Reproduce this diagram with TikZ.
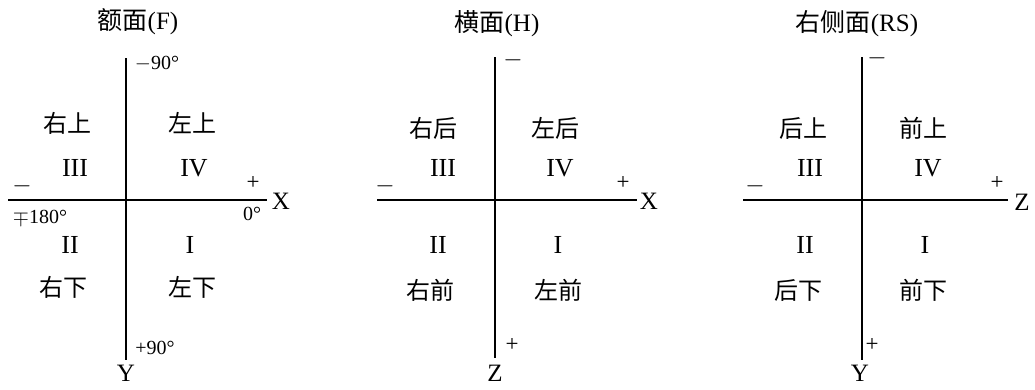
\documentclass[tikz,border=0pt]{standalone}
\usepackage{fontspec}
\setmainfont{Liberation Serif}
\newfontfamily\cjk{Noto Sans CJK SC}
\usetikzlibrary{positioning}

\begin{document}
\begin{tikzpicture}[x=1pt, y=-1pt,
    axis/.style={line width=1.6pt},
    ttl/.style={font=\fontsize{25}{28}\selectfont, inner sep=0pt},
    quad/.style={font=\cjk\fontsize{24}{28}\selectfont, inner sep=0pt},
    num/.style={font=\fontsize{26}{28}\selectfont, inner sep=0pt},
    sgn/.style={font=\fontsize{23}{26}\selectfont, inner sep=0pt},
    deg/.style={font=\fontsize{20}{22}\selectfont, inner sep=0pt},
    axlbl/.style={font=\fontsize{25}{28}\selectfont, inner sep=0pt}
]
    \useasboundingbox (0,0) rectangle (1035,389);

    % frontal plane
    \coordinate (fL) at (8,200);
    \coordinate (fR) at (267,200);
    \coordinate (fT) at (126,58);
    \coordinate (fB) at (126,360);
    \draw[axis] (fL) -- (fR);
    \draw[axis] (fT) -- (fB);
    \node[ttl] (fTitle) at (138,22) {{\cjk 额面}(F)};
    \node[axlbl] (fX) at (281,201) {X};
    \node[axlbl] (fY) at (126,373) {Y};
    \node[deg] (fTop) at (157,64) {$-$90°};
    \node[deg] (fBot) at (155,348) {+90°};
    \node[deg] (fLeft) at (40,218) {$\mp$180°};
    \node[deg] (fRight) at (252,214) {0°};
    \node[sgn] (fMinus) at (22,186) {$-$};
    \node[sgn] (fPlus) at (253,183) {+};
    \node[quad] (fRU) at (67,123) {右上};
    \node[quad] (fLU) at (192,123) {左上};
    \node[num] (fIII) at (75,168) {III};
    \node[num] (fIV) at (194,168) {IV};
    \node[num] (fII) at (70,245) {II};
    \node[num] (fI) at (190,245) {I};
    \node[quad] (fRD) at (63,287) {右下};
    \node[quad] (fLD) at (192,287) {左下};

    % horizontal plane
    \coordinate (hL) at (377,200);
    \coordinate (hR) at (637,200);
    \coordinate (hT) at (495,57);
    \coordinate (hB) at (495,358);
    \draw[axis] (hL) -- (hR);
    \draw[axis] (hT) -- (hB);
    \node[ttl] (hTitle) at (497,24) {{\cjk 横面}(H)};
    \node[axlbl] (hX) at (649,201) {X};
    \node[axlbl] (hZ) at (495,373) {Z};
    \node[sgn] (hTop) at (513,60) {$-$};
    \node[sgn] (hBot) at (512,345) {+};
    \node[sgn] (hMinus) at (385,186) {$-$};
    \node[sgn] (hPlus) at (623,183) {+};
    \node[quad] (hRB) at (433,128) {右后};
    \node[quad] (hLB) at (555,128) {左后};
    \node[num] (hIII) at (443,168) {III};
    \node[num] (hIV) at (560,168) {IV};
    \node[num] (hII) at (438,245) {II};
    \node[num] (hI) at (558,245) {I};
    \node[quad] (hRF) at (430,290) {右前};
    \node[quad] (hLF) at (558,290) {左前};

    % right side plane
    \coordinate (sL) at (743,200);
    \coordinate (sR) at (1008,200);
    \coordinate (sT) at (862,57);
    \coordinate (sB) at (862,360);
    \draw[axis] (sL) -- (sR);
    \draw[axis] (sT) -- (sB);
    \node[ttl] (sTitle) at (857,24) {{\cjk 右侧面}(RS)};
    \node[axlbl] (sZ) at (1022,202) {Z};
    \node[axlbl] (sY) at (860,373) {Y};
    \node[sgn] (sTop) at (877,58) {$-$};
    \node[sgn] (sBot) at (872,345) {+};
    \node[sgn] (sMinus) at (755,186) {$-$};
    \node[sgn] (sPlus) at (997,183) {+};
    \node[quad] (sBU) at (803,128) {后上};
    \node[quad] (sFU) at (923,128) {前上};
    \node[num] (sIII) at (810,168) {III};
    \node[num] (sIV) at (928,168) {IV};
    \node[num] (sII) at (805,245) {II};
    \node[num] (sI) at (925,245) {I};
    \node[quad] (sBD) at (798,290) {后下};
    \node[quad] (sFD) at (923,290) {前下};
\end{tikzpicture}
\end{document}
